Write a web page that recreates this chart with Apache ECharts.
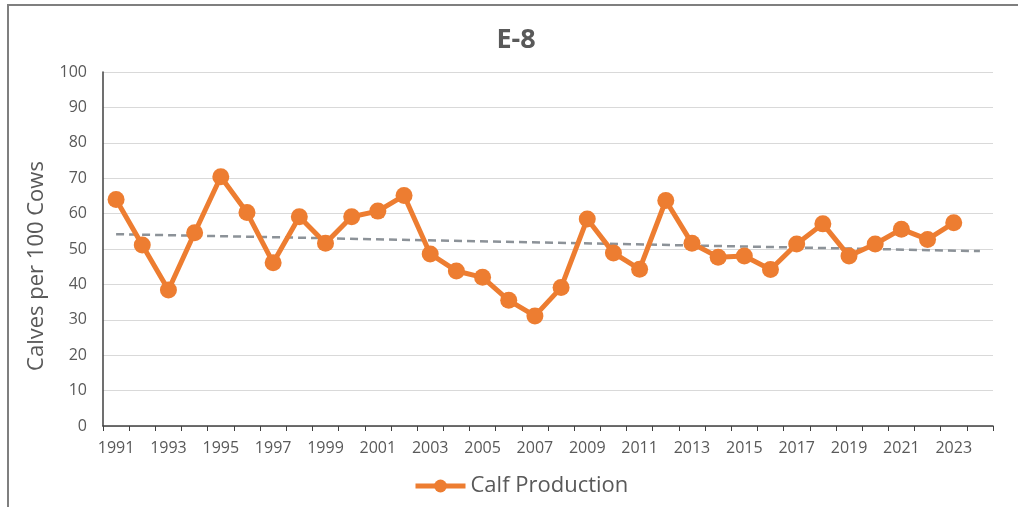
<!DOCTYPE html>
<html>
<head>
<meta charset="utf-8">
<script src="https://cdn.jsdelivr.net/npm/echarts@6/dist/echarts.min.js"></script>
<style>
  html, body { margin: 0; padding: 0; background: #ffffff; }
  #chart { width: 1018px; height: 507px; }
</style>
</head>
<body>
<div id="chart"></div>
<script>
// Survey years (the axis runs one year past the last survey)
const years = ['1991','1992','1993','1994','1995','1996','1997','1998','1999','2000',
  '2001','2002','2003','2004','2005','2006','2007','2008','2009','2010',
  '2011','2012','2013','2014','2015','2016','2017','2018','2019','2020',
  '2021','2022','2023','2024'];

// Calves per 100 cows, one value per survey year (1991–2023)
const calfProduction = [64.0, 51.1, 38.4, 54.6, 70.4, 60.3, 46.1, 59.1, 51.6, 59.1,
  60.7, 65.1, 48.6, 43.8, 42.0, 35.5, 31.1, 39.1, 58.5, 48.9,
  44.3, 63.7, 51.6, 47.7, 48.0, 44.2, 51.4, 57.1, 48.0, 51.4,
  55.6, 52.7, 57.4];

// Linear trend: value at the first and at the last year of the axis
const trendEnds = [54.2, 49.4];

const yTicks = { min: 0, max: 100, step: 10 };

const TEXT = '#595959';
const FONT = 'Open Sans';

const trendData = years.map((y, i) =>
  i === 0 ? trendEnds[0] : (i === years.length - 1 ? trendEnds[1] : null));

const chart = echarts.init(document.getElementById('chart'), null, { renderer: 'canvas' });

chart.setOption({
  animation: false,
  backgroundColor: '#ffffff',
  graphic: [
    {
      type: 'polyline',
      shape: { points: [[8, 520], [8, 5], [1030, 5]] },
      style: { stroke: '#7f7f7f', lineWidth: 2, fill: null },
      silent: true
    },
    {
      type: 'text',
      x: 516, y: 40,
      style: {
        text: 'E-8',
        fontFamily: FONT, fontSize: 27, fontWeight: 'bold', fill: TEXT,
        align: 'center', verticalAlign: 'middle'
      }
    },
    {
      type: 'text',
      x: 37, y: 266,
      rotation: Math.PI / 2,
      style: {
        text: 'Calves per 100 Cows',
        fontFamily: FONT, fontSize: 22, fill: TEXT,
        align: 'center', verticalAlign: 'middle'
      }
    }
  ],
  legend: {
    bottom: 5,
    left: 408,
    itemWidth: 50,
    itemHeight: 16,
    itemGap: 4,
    data: ['Calf Production'],
    lineStyle: { width: 5 },
    textStyle: { fontFamily: FONT, fontSize: 22, color: TEXT, padding: [0, 0, 0, 0] }
  },
  grid: { left: 103, right: 25, top: 72, bottom: 81 },
  xAxis: {
    type: 'category',
    data: years,
    boundaryGap: true,
    axisLine: { lineStyle: { color: '#404040', width: 1.5 } },
    axisTick: { show: true, alignWithLabel: false, interval: 0, length: 5, lineStyle: { color: '#404040' } },
    axisLabel: { interval: 1, margin: 14, fontFamily: FONT, fontSize: 16, color: TEXT },
    splitLine: { show: false }
  },
  yAxis: {
    type: 'value',
    min: yTicks.min,
    max: yTicks.max,
    interval: yTicks.step,
    axisLine: { show: true, lineStyle: { color: '#404040', width: 1.5 } },
    axisTick: { show: false },
    axisLabel: { margin: 16, fontFamily: FONT, fontSize: 16, color: TEXT },
    splitLine: { lineStyle: { color: '#d9d9d9', width: 1 } }
  },
  series: [
    {
      name: 'Trend',
      type: 'line',
      data: trendData,
      connectNulls: true,
      symbol: 'none',
      lineStyle: { color: '#8c9298', width: 2.5, type: [8, 5] },
      z: 3
    },
    {
      name: 'Calf Production',
      type: 'line',
      data: calfProduction,
      symbol: 'circle',
      symbolSize: 17,
      itemStyle: { color: '#ED7D31' },
      lineStyle: { color: '#ED7D31', width: 5 },
      z: 4
    }
  ]
});
</script>
</body>
</html>
